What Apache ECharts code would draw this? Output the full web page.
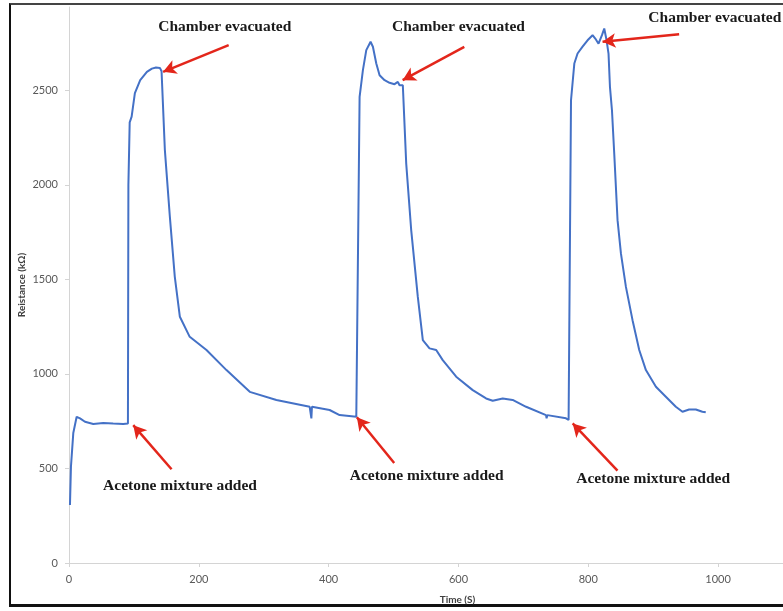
<!DOCTYPE html>
<html>
<head>
<meta charset="utf-8">
<script src="https://cdn.jsdelivr.net/npm/echarts@6/dist/echarts.min.js"></script>
<style>
  html, body { margin: 0; padding: 0; background: #ffffff; }
  #frame { position: absolute; left: 0; top: 0; width: 783px; height: 611px; overflow: hidden; }
  #border { position: absolute; left: 9px; top: 3px; width: 790px; height: 604px;
            border-left: 2px solid #111; border-top: 2px solid #444; border-bottom: 3px solid #111; box-sizing: border-box; }
  #chart { position: absolute; left: 0; top: 0; width: 783px; height: 611px; }
</style>
</head>
<body>
<div id="frame">
  <div id="border"></div>
  <div id="chart"></div>
</div>
<script>
// Sensor resistance over time, three acetone exposure cycles
const timeS = [
  1.5, 3, 6.6, 11.8, 17, 24.6, 37.4, 52.8, 68, 83.5, 90.8,
  91.5, 93.5, 96.5, 101.5, 109.7, 120, 127.7, 134, 140, 142.6,
  147.7, 155.4, 163, 170.8, 186, 211.8, 242.6, 278.5, 319.5, 370.8,
  372.3, 373.4, 374.3, 401.5, 416.9, 442.6, 443.5,
  447.7, 452.8, 458, 464.6, 468.2, 473.4, 478.5, 486.2, 493.8, 501.5, 506.6, 509.2, 514.3, 515.4,
  519.5, 527.2, 537.4, 545.1, 555.4, 565.7, 575.8, 596.5, 622, 642.6, 652.8, 668.2, 683.5, 704.2,
  734.9, 735.8, 736.9, 765.7, 769.7, 770.8,
  773.4, 778.5, 783.5, 791.2, 798.9, 806.6, 810.8, 815.8, 821.1, 824.6, 828.2, 831.2,
  833.4, 836.5, 840, 845.1, 850.3, 858, 868.2, 878.5, 888.8, 904.2, 919.5, 934.9, 945.1, 955.4, 965.7, 975.8, 981
];
const resistanceKOhm = [
  307, 509, 687, 773, 765, 747, 735, 740, 737, 735, 738,
  2000, 2330, 2360, 2484, 2553, 2597, 2614, 2620, 2618, 2600,
  2183, 1830, 1513, 1302, 1196, 1126, 1020, 905, 862, 826,
  826, 765, 826, 809, 782, 773, 773,
  2465, 2606, 2712, 2756, 2730, 2641, 2579, 2553, 2539, 2532, 2544, 2526, 2526, 2520,
  2113, 1760, 1407, 1179, 1135, 1126, 1073, 985, 914, 870, 858, 870, 862, 826,
  782, 765, 782, 765, 756, 756,
  2447, 2641, 2694, 2730, 2764, 2791, 2773, 2746, 2791, 2826, 2764, 2694,
  2518, 2394, 2165, 1813, 1637, 1460, 1284, 1126, 1020, 932, 879, 826, 800, 812, 812, 800, 797
];

// Axis tick labels
const xTicks = [0, 200, 400, 600, 800, 1000];
const yTicks = [0, 500, 1000, 1500, 2000, 2500];

// Annotations: arrow tail -> arrow head (data coordinates) and caption
const evacuatedText = 'Chamber evacuated';
const addedText = 'Acetone mixture added';
const evacuatedArrows = [
  [[246, 2738], [145, 2597]],
  [[609, 2729], [514, 2553]],
  [[940, 2796], [822, 2756]]
];
const evacuatedLabels = [[240, 2833], [600, 2833], [995, 2881]];
const addedArrows = [
  [[158, 496], [99, 729]],
  [[501, 529], [443.5, 771]],
  [[845, 489], [776, 738]]
];
const addedLabels = [[171, 407], [551, 460], [900, 444]];

const serifBold = { fontFamily: '"Liberation Serif", "Times New Roman", serif', fontWeight: 'bold', fontSize: 15.5, color: '#1a1a1a' };
const sansLabel = { fontFamily: 'Lato, "Open Sans", sans-serif', fontSize: 11, color: '#595959' };
const sansTitle = { fontFamily: 'Lato, "Open Sans", sans-serif', fontWeight: 'bold', fontSize: 10, color: '#404040' };

const chart = echarts.init(document.getElementById('chart'), null, { renderer: 'canvas' });

const arrowLines = evacuatedArrows.concat(addedArrows).map(a => [
  { coord: a[0], symbol: 'none' },
  { coord: a[1], symbol: 'arrow' }
]);
const labelPoints = evacuatedLabels.map(c => ({ coord: c, value: evacuatedText }))
  .concat(addedLabels.map(c => ({ coord: c, value: addedText })));

chart.setOption({
  animation: false,
  backgroundColor: 'transparent',
  grid: { left: 69, top: 7, width: 715, height: 556, containLabel: false },
  xAxis: {
    type: 'value', min: 0, max: 1100,
    name: 'Time (S)', nameLocation: 'middle', nameGap: 32, nameMoveOverlap: false,
    nameTextStyle: Object.assign({ padding: [0, 0, 0, 63] }, sansTitle),
    axisLine: { show: true, lineStyle: { color: '#d4d4d4', width: 1 } },
    axisTick: { show: true, customValues: xTicks, length: 4, inside: false, lineStyle: { color: '#d4d4d4' } },
    axisLabel: Object.assign({ customValues: xTicks, margin: 11, formatter: v => String(v) }, sansLabel),
    splitLine: { show: false }
  },
  yAxis: {
    type: 'value', min: 0, max: 2940,
    name: 'Reistance (kΩ)', nameLocation: 'middle', nameGap: 42, nameMoveOverlap: false,
    nameTextStyle: sansTitle,
    axisLine: { show: true, lineStyle: { color: '#d4d4d4', width: 1 } },
    axisTick: { show: true, customValues: yTicks, length: 4, lineStyle: { color: '#d4d4d4' } },
    axisLabel: Object.assign({ customValues: yTicks, margin: 11, formatter: v => String(v) }, sansLabel),
    splitLine: { show: false }
  },
  series: [
    {
      type: 'line',
      data: timeS.map((t, i) => [t, resistanceKOhm[i]]),
      showSymbol: false,
      smooth: false,
      lineStyle: { color: '#4471c6', width: 2 },
      silent: true,
      z: 2
    },
    {
      type: 'line',
      data: [],
      silent: true,
      z: 3,
      markLine: {
        silent: true,
        animation: false,
        symbolSize: [11, 13],
        label: { show: false },
        lineStyle: { color: '#e3261b', width: 2.5, type: 'solid' },
        itemStyle: { color: '#e3261b' },
        emphasis: { disabled: true },
        data: arrowLines
      },
      markPoint: {
        silent: true,
        animation: false,
        symbol: 'circle',
        symbolSize: 0,
        itemStyle: { color: 'transparent' },
        label: Object.assign({ show: true, position: 'inside', formatter: p => p.value }, serifBold),
        data: labelPoints
      }
    }
  ]
});
</script>
</body>
</html>
